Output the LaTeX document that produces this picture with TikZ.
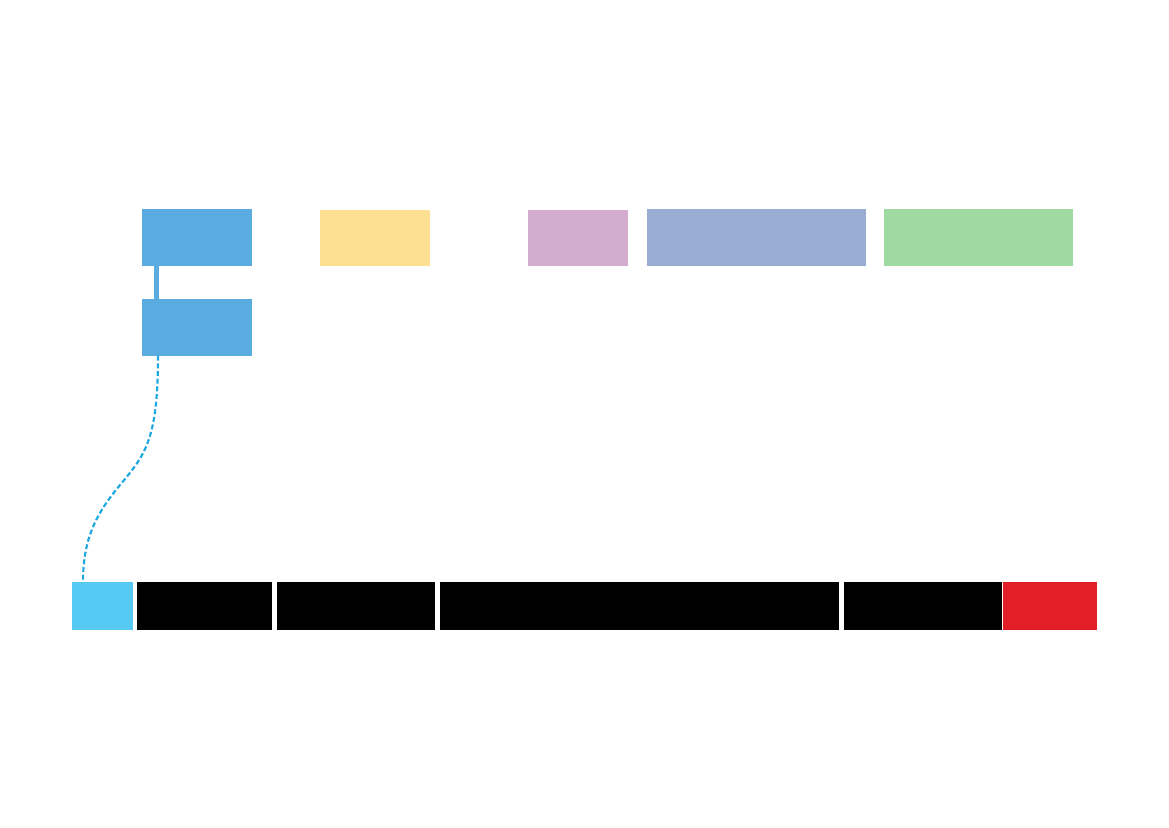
\documentclass[tikz,border=0pt]{standalone}
\usepackage{tikz}
\usetikzlibrary{fit}
\definecolor{tileblue}{RGB}{90,172,224}
\definecolor{tileyellow}{RGB}{254,224,146}
\definecolor{tilepink}{RGB}{212,172,207}
\definecolor{tilelavender}{RGB}{153,172,210}
\definecolor{tilegreen}{RGB}{160,218,163}
\definecolor{tilecyan}{RGB}{87,202,244}
\definecolor{tilered}{RGB}{226,31,38}
\definecolor{linkblue}{RGB}{30,168,225}
\tikzset{
	tile/.style={inner sep=0pt, outer sep=0pt, draw=none},
	stem/.style={draw=tileblue, line width=1.27mm},
	link/.style={draw=linkblue, line width=0.55mm, dash pattern=on 1.25mm off 0.7mm}
}
\def\tile[#1](#2)(#3,#4:#5,#6){\node[tile, fill=#1, fit={(#3,#4) (#5,#6)}] (#2) {};}

\begin{document}
\begin{tikzpicture}[x=0.0254cm, y=-0.0254cm]
			%%%%% START %%%%%
			\useasboundingbox (0, 0) rectangle (1169, 827);
			
			\tile[tileblue](blueTop)(142, 209:251.5, 265.5)
			\tile[tileblue](blueBot)(142, 299:251.5, 355.7)
			\tile[tileyellow](yellow)(320, 209.5:430.3, 266.3)
			\tile[tilepink](pink)(528, 209.5:628, 266.3)
			\tile[tilelavender](lavender)(647, 209:866, 266.3)
			\tile[tilegreen](green)(884, 209:1073, 266.3)
			
			\draw[stem] ([xshift=3.7mm]blueTop.south west) -- ([xshift=3.7mm]blueBot.north west);
			
			\tile[tilecyan](cyan)(72, 582.3:133, 630)
			\tile[black](bar1)(137.3, 582.3:272, 630)
			\tile[black](bar2)(276.7, 582.3:435.3, 630)
			\tile[black](bar3)(440, 582.3:839.3, 630)
			\tile[black](bar4)(844, 582.3:1001.7, 630)
			\tile[tilered](red)(1003.3, 582.3:1097.3, 630)
			
			\coordinate (bend) at (120, 485);
			\draw[link] ([xshift=4.06mm]blueBot.south west) .. controls (158, 440) and (145, 455) .. (bend)
				.. controls (95, 515) and (83, 540) .. ([xshift=2.8mm]cyan.north west);
			%%%%% END %%%%%
		\end{tikzpicture}
\end{document}
